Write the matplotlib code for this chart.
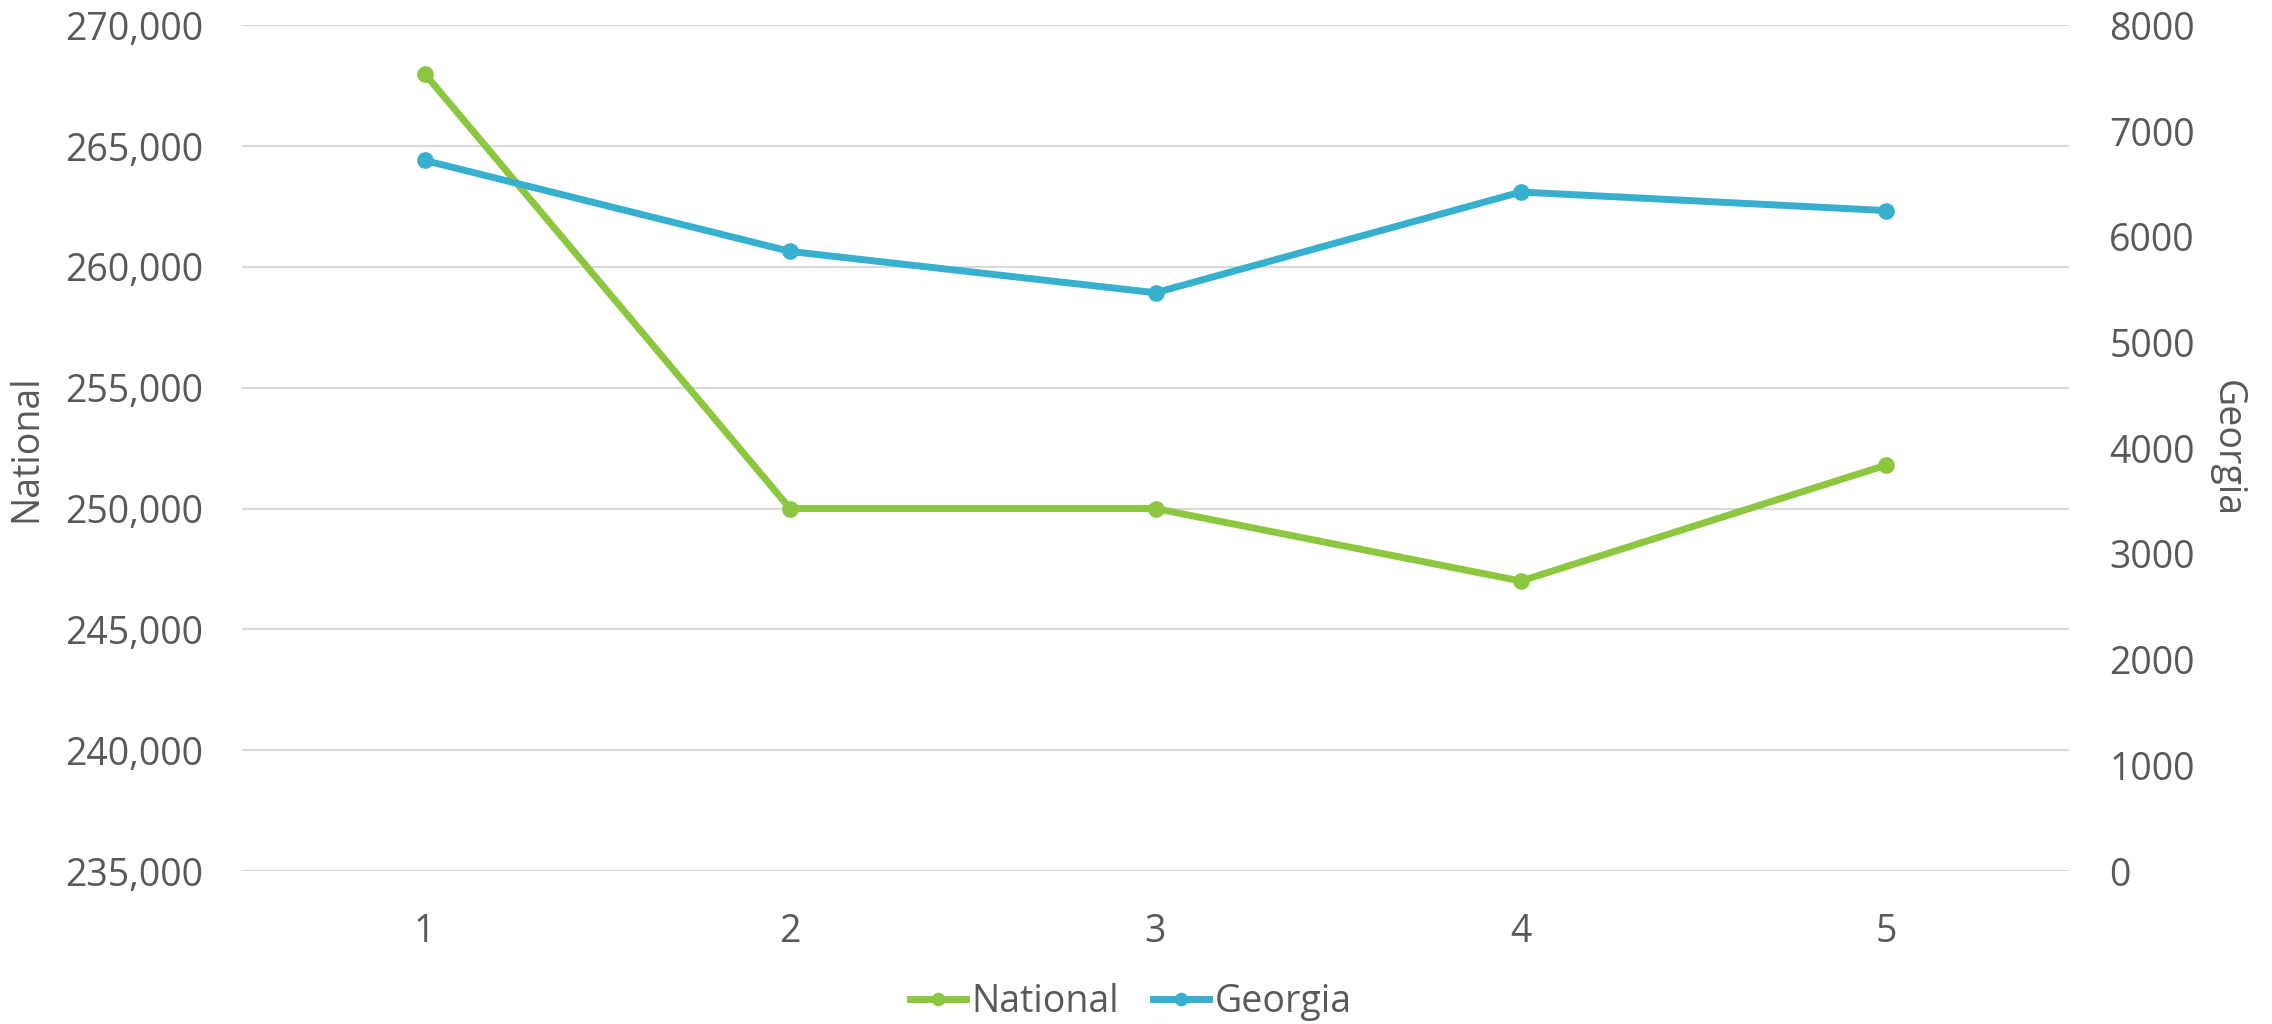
import matplotlib
matplotlib.use("Agg")
from matplotlib import pyplot as plt

categories = [1, 2, 3, 4, 5]
national = [268000, 250000, 250000, 247000, 251800]
georgia = [6722, 5861, 5470, 6423, 6247]

green = "#8DC63F"
blue = "#37B0D0"
grey = "#595959"

plt.rcParams['font.family'] = ['Open Sans', 'DejaVu Sans']
fs = 27

fig = plt.figure(figsize=(22.72, 10.24), dpi=100)
ax = fig.add_axes([242/2272, 1 - 871/1024, 1827/2272, (871 - 25.3)/1024])
ax2 = ax.twinx()

l1, = ax.plot(categories, national, color=green, lw=5, marker='o', ms=11, label="National", zorder=3)
l2, = ax2.plot(categories, georgia, color=blue, lw=5, marker='o', ms=11, label="Georgia", zorder=3)

ax.set_xlim(0.5, 5.5)
ax.set_ylim(235000, 270000)
ax.set_yticks(range(235000, 270001, 5000))
ax.set_yticklabels(["{:,}".format(v) for v in range(235000, 270001, 5000)])
ax2.set_ylim(0, 8000)
ax2.set_yticks(range(0, 8001, 1000))
ax.set_xticks(categories)

ax.grid(axis='y', color="#D9D9D9", lw=1.5)
ax.set_axisbelow(True)
for a in (ax, ax2):
    for s in a.spines.values():
        s.set_visible(False)
    a.tick_params(length=0, labelsize=fs, labelcolor=grey)
ax.tick_params(axis='y', pad=28)
ax.tick_params(axis='x', pad=30)
ax2.tick_params(axis='y', pad=29)

ax.set_ylabel("National", fontsize=fs, color=grey, va='center')
ax.yaxis.set_label_coords(-0.118, 0.5)
ax2.set_ylabel("Georgia", fontsize=fs, color=grey, rotation=270, va='center')
ax2.yaxis.set_label_coords(1.0865, 0.5)

leg = fig.legend([l1, l2], ["National", "Georgia"], loc='center', bbox_to_anchor=(0.4978, 0.0215),
                 ncol=2, frameon=False, fontsize=fs, handlelength=1.5, handletextpad=0.15,
                 columnspacing=0.9, markerscale=0.8)
for t in leg.get_texts():
    t.set_color(grey)

fig.savefig("out.png", dpi=100)
